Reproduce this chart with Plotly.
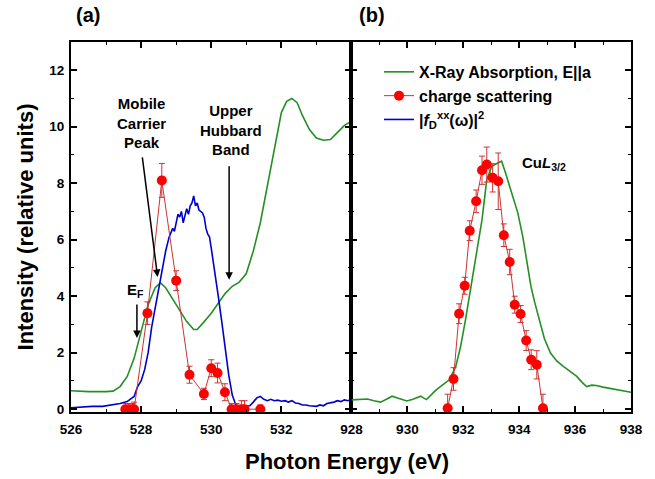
import plotly.graph_objects as go

# ---------------- data ----------------
# Panel (a): O K-edge
xas_a_x = [526.0, 526.5, 527.0, 527.2, 527.4, 527.6, 527.8, 528.0, 528.2, 528.4, 528.55, 528.7,
           528.9, 529.1, 529.3, 529.5, 529.6, 529.8, 530.0, 530.2, 530.4, 530.6, 530.8, 531.0,
           531.2, 531.4, 531.6, 531.8, 532.0, 532.15, 532.3, 532.45, 532.6, 532.8, 533.0, 533.2,
           533.4, 533.6, 533.8, 534.0]
xas_a_y = [0.65, 0.62, 0.62, 0.64, 0.8, 1.15, 1.8, 2.8, 3.7, 4.3, 4.47, 4.3,
           3.9, 3.5, 3.1, 2.82, 2.82, 3.1, 3.4, 3.75, 4.1, 4.35, 4.5, 4.8,
           5.6, 6.6, 7.9, 9.3, 10.5, 10.9, 11.0, 10.85, 10.4, 9.9, 9.6, 9.52,
           9.55, 9.8, 10.05, 10.2]

fd_x = [526.0, 526.3, 526.6, 526.9, 527.2, 527.4, 527.6, 527.7, 527.8, 527.9, 528.0, 528.1,
        528.2, 528.3, 528.4, 528.5, 528.6, 528.7, 528.8, 528.9, 528.95, 529.0, 529.05, 529.1,
        529.15, 529.2, 529.25, 529.3, 529.35, 529.4, 529.45, 529.5, 529.55, 529.6, 529.65,
        529.7, 529.75, 529.8, 529.85, 529.9, 529.95, 530.0, 530.1, 530.2, 530.3, 530.4, 530.5,
        530.6, 530.7, 530.8, 530.9, 531.0, 531.1, 531.2, 531.3, 531.4, 531.5, 531.6, 531.7,
        531.8, 531.9, 532.0, 532.1, 532.2, 532.3, 532.4, 532.5, 532.6, 532.7, 532.8, 532.9,
        533.0, 533.1, 533.2, 533.3, 533.4, 533.5, 533.6, 533.7, 533.8, 533.9, 534.0]
fd_y = [0.05, 0.08, 0.1, 0.1, 0.15, 0.2, 0.27, 0.35, 0.45, 0.8, 1.0, 1.4,
        2.0, 2.9, 3.6, 4.3, 5.0, 5.6, 6.1, 6.4, 6.3, 6.6, 6.9, 6.8,
        7.0, 6.6, 6.9, 7.1, 6.9, 7.2, 7.3, 7.55, 7.2, 7.3, 7.05,
        7.0, 6.95, 6.8, 6.4, 6.2, 6.1, 5.7, 4.9, 4.0, 3.1, 2.1, 1.2,
        0.5, 0.15, 0.1, 0.1, 0.1, 0.12, 0.25, 0.4, 0.45, 0.35, 0.3, 0.35,
        0.3, 0.32, 0.28, 0.3, 0.25, 0.3, 0.22, 0.2, 0.15, 0.15, 0.12, 0.1,
        0.1, 0.15, 0.12, 0.2, 0.22, 0.25, 0.3, 0.27, 0.33, 0.3, 0.35]

cs_a_x = [527.55, 527.65, 527.75, 527.8, 528.18, 528.59, 529.0, 529.38, 529.79, 530.0, 530.18,
          530.39, 530.58, 530.72, 530.86, 530.95, 531.4]
cs_a_y = [0, 0, 0, 0, 3.4, 8.1, 4.55, 1.22, 0.54, 1.45, 1.28, 0.6, 0, 0, 0, 0, 0]
cs_a_err = [0.2, 0.2, 0.2, 0.25, 0.4, 0.6, 0.35, 0.3, 0.2, 0.3, 0.35, 0.3, 0.2, 0.2, 0.3, 0.3, 0.15]

# Panel (b): Cu L3 edge
xas_b_x = [928.0, 928.3, 928.57, 928.8, 929.04, 929.25, 929.45, 929.7, 929.98, 930.2, 930.47,
           930.68, 930.85, 931.03, 931.25, 931.5, 931.73, 931.9, 932.08, 932.25, 932.43, 932.55,
           932.67, 932.84, 933.02, 933.2, 933.37, 933.5, 933.66, 933.8, 933.95, 934.13, 934.3,
           934.42, 934.55, 934.71, 934.9, 935.12, 935.35, 935.59, 935.8, 936.06, 936.25, 936.41,
           936.6, 936.76, 937.0, 937.23, 937.58, 938.0]
xas_b_y = [0.33, 0.35, 0.36, 0.3, 0.25, 0.35, 0.46, 0.38, 0.29, 0.35, 0.46,
           0.34, 0.5, 0.68, 0.85, 1.04, 1.51, 2.2, 3.17, 4.2, 5.3, 6.0,
           6.71, 8.13, 8.6, 8.7, 8.78, 8.4, 7.89, 7.4, 6.95, 6.1, 5.0,
           4.35, 3.8, 3.17, 2.5, 1.99, 1.7, 1.51, 1.35, 1.16, 0.95, 0.8,
           0.85, 0.84, 0.78, 0.74, 0.68, 0.6]

cs_b_x = [931.44, 931.65, 931.85, 932.05, 932.23, 932.46, 932.67, 932.84, 933.05, 933.25,
          933.45, 933.66, 933.84, 934.05, 934.25, 934.43, 934.63, 934.85]
cs_b_y = [0.03, 1.07, 3.38, 4.37, 6.32, 7.36, 8.46, 8.66, 8.19, 8.07,
          6.16, 5.21, 3.70, 3.37, 2.43, 1.75, 1.57, 0.03]
cs_b_err = [0.5, 0.4, 0.35, 0.3, 0.35, 0.4, 0.5, 0.62, 0.5, 1.0,
            0.4, 0.45, 0.3, 0.3, 0.35, 0.35, 0.5, 0.5]

x_a_ticks = [526, 528, 530, 532]
x_b_ticks = [928, 930, 932, 934, 936, 938]
y_ticks = [0, 2, 4, 6, 8, 10, 12]

# ---------------- style ----------------
FONT = "Liberation Sans, Arial, sans-serif"
GREEN = "#248f24"
BLUE = "#0000cc"
RED = "#ff0000"
REDLINE = "#cc3333"


def bold(vals):
    return ["<b>%d</b>" % v for v in vals]


fig = go.Figure()

fig.add_trace(go.Scatter(x=xas_a_x, y=xas_a_y, mode="lines", line=dict(color=GREEN, width=1.6),
                         name="X-Ray Absorption, E||a", xaxis="x", yaxis="y", legendrank=1))
fig.add_trace(go.Scatter(x=fd_x, y=fd_y, mode="lines", line=dict(color=BLUE, width=1.6),
                         name="|<i>f</i><sub>D</sub><sup>xx</sup>(ω)|<sup>2</sup>",
                         xaxis="x", yaxis="y", legendrank=3))
fig.add_trace(go.Scatter(x=cs_a_x, y=cs_a_y, mode="lines+markers",
                         line=dict(color=REDLINE, width=1),
                         marker=dict(color=RED, size=10),
                         error_y=dict(type="data", array=cs_a_err, color=REDLINE, thickness=1, width=3),
                         name="charge scattering", xaxis="x", yaxis="y", legendrank=2))

fig.add_trace(go.Scatter(x=xas_b_x, y=xas_b_y, mode="lines", line=dict(color=GREEN, width=1.6),
                         showlegend=False, xaxis="x2", yaxis="y2"))
fig.add_trace(go.Scatter(x=cs_b_x, y=cs_b_y, mode="lines+markers",
                         line=dict(color=REDLINE, width=1),
                         marker=dict(color=RED, size=10),
                         error_y=dict(type="data", array=cs_b_err, color=REDLINE, thickness=1, width=3),
                         showlegend=False, xaxis="x2", yaxis="y2"))

split = (357 - 71) / 571.0
tickfont = dict(family=FONT, size=13.5, color="black")
axis_common = dict(showline=True, linecolor="black", linewidth=2, ticks="inside",
                   ticklen=6, tickwidth=1.5, tickcolor="black", mirror="ticks",
                   showgrid=False, zeroline=False, tickfont=tickfont)
minor = dict(dtick=1, ticklen=3, ticks="inside", tickcolor="black", tickwidth=1.2)

fig.update_layout(
    width=655, height=479,
    margin=dict(l=71, r=13, t=42, b=67),
    paper_bgcolor="white", plot_bgcolor="white",
    font=dict(family=FONT, color="black"),
    xaxis=dict(domain=[0, split], range=[526, 534], tickvals=x_a_ticks, ticktext=bold(x_a_ticks),
               minor=minor, anchor="y", ticklabelstandoff=4, **axis_common),
    xaxis2=dict(domain=[split, 1], range=[928, 938], tickvals=x_b_ticks, ticktext=bold(x_b_ticks),
                minor=minor, anchor="y2", ticklabelstandoff=4, **axis_common),
    yaxis=dict(range=[-0.1, 13], tickvals=y_ticks, ticktext=bold(y_ticks), anchor="x",
               minor=minor,
               title=dict(text="<b>Intensity (relative units)</b>",
                          font=dict(family=FONT, size=22, color="black"), standoff=10),
               ticklabelstandoff=2, **axis_common),
    yaxis2=dict(range=[-0.1, 13], tickvals=y_ticks, anchor="x2", showticklabels=False,
                minor=minor, **axis_common),
    legend=dict(x=0.55, y=0.965, xanchor="left", yanchor="top",
                bgcolor="rgba(0,0,0,0)", borderwidth=0,
                font=dict(family=FONT, size=16, color="black", weight="bold"),
                tracegroupgap=0),
    showlegend=True,
)

ann_font = dict(family=FONT, size=15, color="black")
annotations = [
    dict(text="<b>(a)</b>", x=(88 - 71) / 571, y=1 + (42 - 15) / 370, xref="paper", yref="paper",
         xanchor="center", yanchor="middle",
         showarrow=False, font=dict(family=FONT, size=20, color="black")),
    dict(text="<b>(b)</b>", x=(378 - 71) / 571, y=1 + (42 - 15) / 370, xref="paper", yref="paper",
         xanchor="center", yanchor="middle",
         showarrow=False, font=dict(family=FONT, size=20, color="black")),
    dict(text="<b>Photon Energy (eV)</b>", x=(352 - 71) / 571, y=-(461 - 412) / 370,
         xref="paper", yref="paper", xanchor="center", yanchor="middle",
         showarrow=False, font=dict(family=FONT, size=22, color="black")),
    dict(text="<b>Mobile<br>Carrier<br>Peak</b>", x=528.0, y=10.15, xref="x", yref="y",
         xanchor="center", yanchor="middle", showarrow=False, font=ann_font),
    dict(text="<b>Upper<br>Hubbard<br>Band</b>", x=530.57, y=9.89, xref="x", yref="y",
         xanchor="center", yanchor="middle", showarrow=False, font=ann_font),
    dict(text="<b>E<sub>F</sub></b>", x=527.55, y=4.2, xref="x", yref="y", xanchor="left",
         yanchor="middle", showarrow=False, font=ann_font),
    dict(text="<b>Cu<i>L</i><sub>3/2</sub></b>", x=934.02, y=8.7, xref="x2", yref="y2",
         xanchor="left", yanchor="middle", showarrow=False, font=ann_font),
    # arrows
    dict(x=528.47, y=4.68, ax=528.03, ay=8.97, xref="x", yref="y", axref="x", ayref="y",
         text="", showarrow=True, arrowhead=2, arrowsize=1, arrowwidth=1.5, arrowcolor="black"),
    dict(x=530.51, y=4.58, ax=530.51, ay=8.65, xref="x", yref="y", axref="x", ayref="y",
         text="", showarrow=True, arrowhead=2, arrowsize=1, arrowwidth=1.5, arrowcolor="black"),
    dict(x=527.88, y=2.52, ax=527.88, ay=3.76, xref="x", yref="y", axref="x", ayref="y",
         text="", showarrow=True, arrowhead=2, arrowsize=1, arrowwidth=1.5, arrowcolor="black"),
]
fig.update_layout(annotations=annotations)

fig.write_html("out.html", config={"displayModeBar": False},
               post_script="document.body.style.margin='0px';")
